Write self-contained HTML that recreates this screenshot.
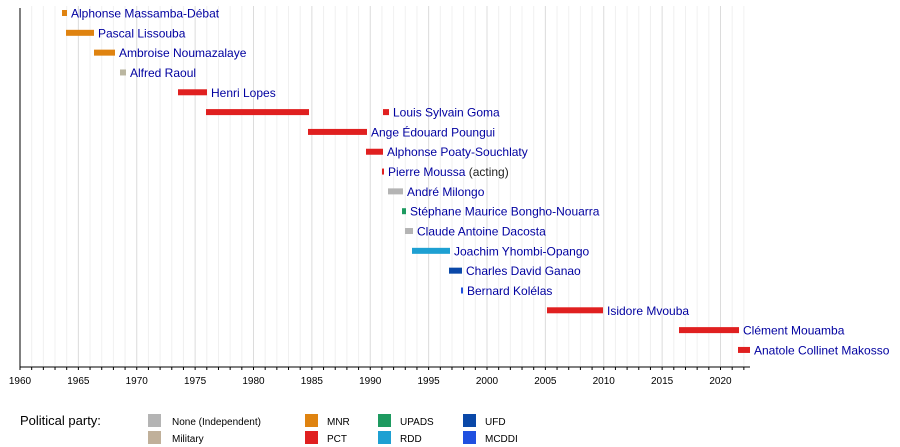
<!DOCTYPE html>
<html><head><meta charset="utf-8"><style>
body{margin:0;background:#fff;}
svg{display:block;font-family:"Liberation Sans",sans-serif;}
.l{font-size:12px;fill:#0000a0;}
.t{font-size:10px;fill:#000;text-anchor:middle;}
.g{font-size:10px;fill:#000;}
</style></head><body>
<svg width="900" height="447" xmlns="http://www.w3.org/2000/svg">
<g id="grid"></g>
<line x1="20" y1="8" x2="20" y2="367" stroke="#000" stroke-width="1"/>
<line x1="20" y1="367" x2="750" y2="367" stroke="#000" stroke-width="1"/>
<g id="ticks"></g>
<g id="bars"></g>
<text x="20" y="425" style="font-size:13px">Political party:</text>
<rect x="148" y="414" width="13" height="13" fill="#b4b4b4"/><text class="g" x="172" y="425">None (Independent)</text>
<rect x="148" y="431" width="13" height="13" fill="#c0b09a"/><text class="g" x="172" y="442">Military</text>
<rect x="305" y="414" width="13" height="13" fill="#df8310"/><text class="g" x="327" y="425">MNR</text>
<rect x="305" y="431" width="13" height="13" fill="#e02020"/><text class="g" x="327" y="442">PCT</text>
<rect x="378" y="414" width="13" height="13" fill="#1e9a60"/><text class="g" x="400" y="425">UPADS</text>
<rect x="378" y="431" width="13" height="13" fill="#1ea0d2"/><text class="g" x="400" y="442">RDD</text>
<rect x="463" y="414" width="13" height="13" fill="#0a48a8"/><text class="g" x="485" y="425">UFD</text>
<rect x="463" y="431" width="13" height="13" fill="#2050e0"/><text class="g" x="485" y="442">MCDDI</text>
</svg>
<script>
const X=y=>20+(y-1960)*11.675;
let g='',t='';
for(let y=1961;y<=2022;y++){const x=X(y);g+=`<line x1="${x}" y1="6" x2="${x}" y2="366" stroke="${y%5==0?'#dcdcdc':'#f0f0f0'}" stroke-width="1"/>`;}
for(let y=1960;y<=2022;y++){const x=X(y);t+=`<line x1="${x}" y1="367" x2="${x}" y2="370" stroke="#000"/>`;if(y%5==0)t+=`<text class="t" x="${x}" y="384">${y}</text>`;}
document.getElementById('grid').innerHTML=g;document.getElementById('ticks').innerHTML=t;
const O='#df8310',R='#e02020',G='#b4b4b4',M='#bab6a0';
const rows=[
[[62,67,O]],71,'Alphonse Massamba-Débat',
[[66,94,O]],98,'Pascal Lissouba',
[[94,115,O]],119,'Ambroise Noumazalaye',
[[120,126,M]],130,'Alfred Raoul',
[[178,207,R]],211,'Henri Lopes',
[[206,309,R],[383,389,R]],393,'Louis Sylvain Goma',
[[308,367,R]],371,'Ange Édouard Poungui',
[[366,383,R]],387,'Alphonse Poaty-Souchlaty',
[[382,384,R]],388,'Pierre Moussa',
[[388,403,G]],407,'André Milongo',
[[402,406,'#1e9a60']],410,'Stéphane Maurice Bongho-Nouarra',
[[405,413,G]],417,'Claude Antoine Dacosta',
[[412,450,'#1ea0d2']],454,'Joachim Yhombi-Opango',
[[449,462,'#0a48a8']],466,'Charles David Ganao',
[[461,463,'#2050e0']],467,'Bernard Kolélas',
[[547,603,R]],607,'Isidore Mvouba',
[[679,739,R]],743,'Clément Mouamba',
[[738,750,R]],754,'Anatole Collinet Makosso'];
let b='';
for(let i=0;i<18;i++){const cy=13+19.82*i;const bars=rows[i*3],lx=rows[i*3+1],name=rows[i*3+2];
for(const [a,c,col] of bars)b+=`<rect x="${a}" y="${cy-3}" width="${c-a}" height="6" fill="${col}"/>`;
b+=`<text class="l" x="${lx}" y="${cy+4.5}">${name}${i==8?'<tspan fill="#222"> (acting)</tspan>':''}</text>`;}
document.getElementById('bars').innerHTML=b;
</script>
</body></html>
